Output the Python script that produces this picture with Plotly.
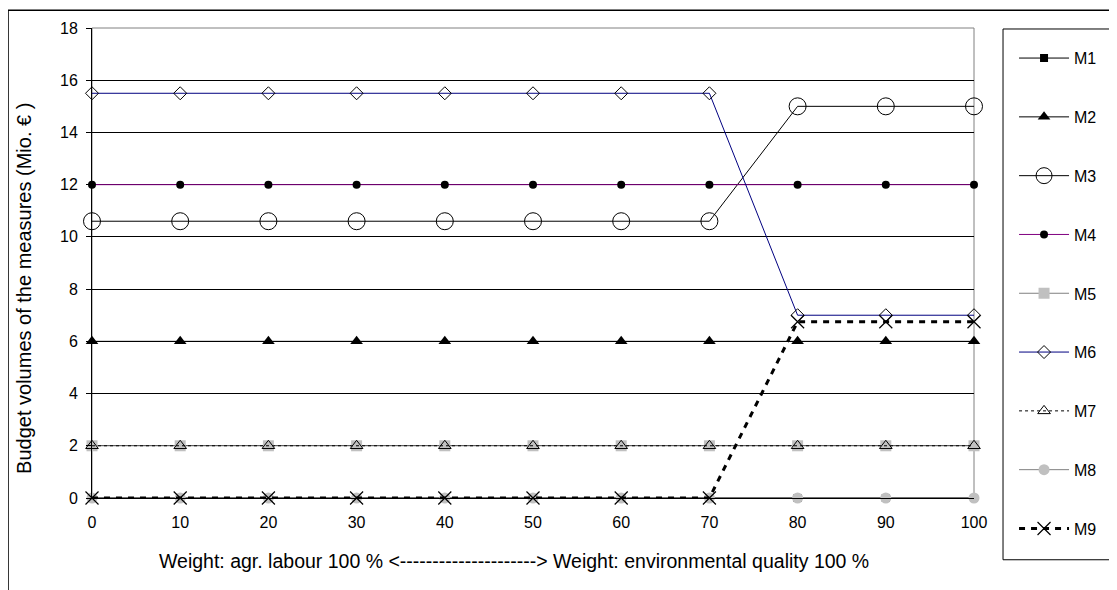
import plotly.graph_objects as go

# weights (x axis)
weights = [0, 10, 20, 30, 40, 50, 60, 70, 80, 90, 100]

# budget volumes per measure (Mio. EUR)
m1 = [0, 0, 0, 0, 0, 0, 0, 0, 0, 0, 0]
m2 = [6, 6, 6, 6, 6, 6, 6, 6, 6, 6, 6]
m3 = [10.6, 10.6, 10.6, 10.6, 10.6, 10.6, 10.6, 10.6, 15, 15, 15]
m4 = [12, 12, 12, 12, 12, 12, 12, 12, 12, 12, 12]
m5 = [2, 2, 2, 2, 2, 2, 2, 2, 2, 2, 2]
m6 = [15.5, 15.5, 15.5, 15.5, 15.5, 15.5, 15.5, 15.5, 7, 7, 7]
m7 = [2, 2, 2, 2, 2, 2, 2, 2, 2, 2, 2]
m8 = [0, 0, 0, 0, 0, 0, 0, 0, 0, 0, 0]
m9 = [0, 0, 0, 0, 0, 0, 0, 0, 6.75, 6.75, 6.75]

x_title = "Weight: agr. labour 100 % <---------------------> Weight: environmental quality 100 %"
y_title = "Budget volumes of the measures (Mio. € )"

FONT = "Arial, Liberation Sans, sans-serif"

series = [
    ("M1", m1, dict(color="black", width=1), dict(symbol="square", size=8, color="black")),
    ("M2", m2, dict(color="black", width=1), dict(symbol="triangle-up", size=11, color="black")),
    ("M3", m3, dict(color="black", width=1), dict(symbol="circle-open", size=17, color="black", line=dict(width=1))),
    ("M4", m4, dict(color="#800080", width=1), dict(symbol="circle", size=8, color="black")),
    ("M5", m5, dict(color="#808080", width=1), dict(symbol="square", size=11, color="#c0c0c0")),
    ("M6", m6, dict(color="#000080", width=1), dict(symbol="diamond-open", size=10, color="black", line=dict(width=1))),
    ("M7", m7, dict(color="black", width=1, dash="dot"), dict(symbol="triangle-up-open", size=11, color="black", line=dict(width=1))),
    ("M8", m8, dict(color="#808080", width=1), dict(symbol="circle", size=11, color="#c0c0c0")),
    ("M9", m9, dict(color="black", width=3, dash="6px,6px"), dict(symbol="x-thin-open", size=13, color="black", line=dict(width=1.2, color="black"))),
]

fig = go.Figure()
for name, vals, line, marker in series:
    fig.add_trace(go.Scatter(
        x=weights, y=vals, name=name, mode="lines+markers",
        line=line, marker=marker, cliponaxis=False,
        legendgroup=name,
    ))

fig.update_layout(
    width=1117, height=590,
    margin=dict(l=84, r=151, t=17, b=100),
    paper_bgcolor="white", plot_bgcolor="white",
    font=dict(family=FONT, size=16, color="black"),
    showlegend=True,
    legend=dict(
        x=1.0454, y=0.972, xanchor="left", yanchor="top",
        borderwidth=0, bgcolor="rgba(0,0,0,0)",
        tracegroupgap=35, itemwidth=50,
        font=dict(size=16), itemsizing="trace", maxheight=570,
    ),
    xaxis=dict(
        range=[0, 100], tickvals=weights, showgrid=False, zeroline=False,
        showline=True, linecolor="black", linewidth=1, ticks="",
        ticklabelstandoff=10,
    ),
    yaxis=dict(
        range=[0, 18], dtick=2, showgrid=True, gridcolor="black", gridwidth=1,
        zeroline=False, showline=True, linecolor="black", linewidth=1,
        ticks="outside", ticklen=5, tickcolor="black", ticklabelstandoff=5,
    ),
    annotations=[
        dict(text=x_title, xref="paper", yref="paper", x=0.4785, y=-0.1335,
             xanchor="center", yanchor="middle", showarrow=False, font=dict(size=19.5)),
        dict(text=y_title, xref="paper", yref="paper", x=-0.0771, y=0.447, textangle=-90,
             xanchor="center", yanchor="middle", showarrow=False, font=dict(size=20)),
    ],
    shapes=[
        # grey plot-area frame
        dict(type="rect", xref="paper", yref="paper", x0=0, x1=1, y0=0, y1=1,
             line=dict(color="#808080", width=1), layer="between"),
        # legend box
        dict(type="rect", xref="paper", yref="paper", x0=1.0329, x1=1.1542, y0=-0.1314, y1=0.9979,
             line=dict(color="black", width=1), layer="below"),
        # outer chart frame
        dict(type="rect", xref="paper", yref="paper", x0=-0.0952, x1=1.2, y0=-0.3, y1=1.038,
             line=dict(color="black", width=1.5), layer="below"),
    ],
)

fig.write_html("out.html")
